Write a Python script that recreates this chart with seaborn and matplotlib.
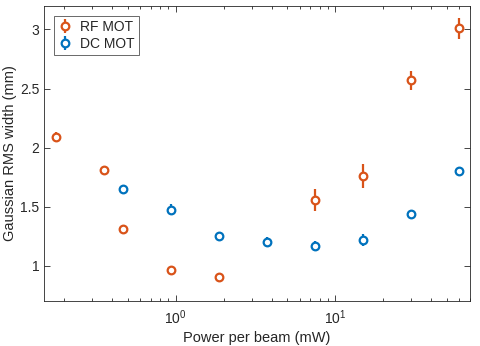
import numpy as np
import pandas as pd
import matplotlib
matplotlib.use("Agg")
import matplotlib.pyplot as plt
import seaborn as sns

# data
rf_power = [0.178, 0.355, 0.466, 0.93, 1.86, 7.45, 14.9, 29.8, 59.6]
rf_width = [2.09, 1.81, 1.31, 0.965, 0.90, 1.555, 1.76, 2.57, 3.01]
rf_err = [0.04, 0.03, 0.015, 0.015, 0.015, 0.09, 0.10, 0.08, 0.09]

dc_power = [0.466, 0.93, 1.86, 3.72, 7.45, 14.9, 29.8, 59.6]
dc_width = [1.645, 1.475, 1.25, 1.20, 1.165, 1.215, 1.44, 1.80]
dc_err = [0.03, 0.05, 0.035, 0.045, 0.045, 0.05, 0.015, 0.015]

labels = ["RF MOT", "DC MOT"]
colors = ["#D95319", "#0072BD"]

df = pd.concat([
    pd.DataFrame({"power": rf_power, "width": rf_width, "err": rf_err, "mot": labels[0]}),
    pd.DataFrame({"power": dc_power, "width": dc_width, "err": dc_err, "mot": labels[1]}),
])

sns.set_style("ticks")
plt.rcParams["font.family"] = ["Liberation Sans", "DejaVu Sans"]
plt.rcParams["mathtext.fontset"] = "custom"
plt.rcParams["mathtext.rm"] = "Liberation Sans"
plt.rcParams["mathtext.it"] = "Liberation Sans"

fig, ax = plt.subplots(figsize=(4.81, 3.46), dpi=100)
for lab, col in zip(labels, colors):
    d = df[df["mot"] == lab]
    ax.errorbar(d["power"], d["width"], yerr=d["err"], fmt="o", color=col,
                mfc="white", mec=col, mew=1.6, ms=5.5, elinewidth=1.6, capsize=0,
                label=lab)

ax.set_xscale("log")
ax.set_xlim(0.15, 70)
ax.set_ylim(0.7, 3.2)
ax.set_yticks([1, 1.5, 2, 2.5, 3])
ax.set_yticklabels(["1", "1.5", "2", "2.5", "3"])
ax.set_xlabel("Power per beam (mW)", fontsize=10.5, color="#262626", labelpad=3)
ax.set_ylabel("Gaussian RMS width (mm)", fontsize=10.5, color="#262626")
ax.yaxis.set_label_coords(-0.063, 0.5)

for s in ax.spines.values():
    s.set_visible(True)
    s.set_color("#262626")
    s.set_linewidth(0.6)
ax.tick_params(which="both", direction="in", top=True, right=True,
               colors="#262626", labelsize=10, width=0.6)
ax.tick_params(which="major", length=4)
ax.tick_params(which="minor", length=2.5)
ax.tick_params(axis="x", which="major", pad=5)

leg = ax.legend(loc="upper left", fontsize=10, frameon=True, fancybox=False,
                edgecolor="#262626", handlelength=1.0, borderpad=0.3,
                labelspacing=0.2, handletextpad=0.6, borderaxespad=0.7)
leg.get_frame().set_linewidth(0.6)

plt.subplots_adjust(left=0.092, right=0.977, top=0.983, bottom=0.13)
plt.savefig("out.png", dpi=100)
plt.close()
